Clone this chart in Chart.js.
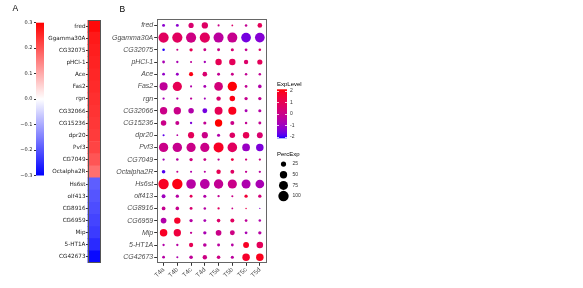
<!DOCTYPE html>
<html>
<head>
<meta charset="utf-8">
<script src="https://cdn.jsdelivr.net/npm/chart.js@4.4.1/dist/chart.umd.min.js"></script>
<style>
  body { margin: 0; background: #fff; }
  #wrap { position: relative; width: 583px; height: 288px; overflow: hidden; font-family: "Liberation Sans", Arial, sans-serif; }
  #wrap canvas { position: absolute; left: 0; top: 0; }
  .lbl { position: absolute; color: #000; white-space: nowrap; line-height: 1; }
</style>
</head>
<body>
<div id="wrap">
  <canvas id="cbA" width="583" height="288"></canvas>
  <canvas id="heatA" width="583" height="288"></canvas>
  <canvas id="dotB" width="583" height="288"></canvas>
  <canvas id="cbB" width="583" height="288"></canvas>
  <canvas id="sizeB" width="583" height="288"></canvas>
  <div class="lbl" style="left:12.5px;top:4px;font-size:8.5px">A</div>
  <div class="lbl" style="left:119.5px;top:4.5px;font-size:8.5px">B</div>
  <div class="lbl" style="left:277px;top:80.5px;font-size:6px">ExpLevel</div>
  <div class="lbl" style="left:277px;top:150.5px;font-size:6px">PercExp</div>
</div>
<script>
// data
const genes = ["fred", "Ggamma30A", "CG32075", "pHCl-1", "Ace", "Fas2", "rgn", "CG32066", "CG15236", "dpr20",
  "Pvf3", "CG7049", "Octalpha2R", "Hs6st", "olf413", "CG8916", "CG6959", "Mip", "5-HT1A", "CG42673"];
const geneCorr = [0.29, 0.27, 0.265, 0.26, 0.255, 0.25, 0.245, 0.24, 0.235, 0.23,
  0.22, 0.2, 0.17, -0.19, -0.2, -0.21, -0.22, -0.23, -0.25, -0.29];
const corrTicks = [0.3, 0.2, 0.1, 0, -0.1, -0.2, -0.3];

const cells = ["T4a", "T4b", "T4c", "T4d", "T5a", "T5b", "T5c", "T5d"];
// percent expressed, one row per gene
const pctExp = [
  [8, 8, 25, 37, 4, 3, 6, 20],
  [96, 96, 95, 96, 93, 92, 88, 88],
  [6, 4, 10, 8, 8, 9, 7, 6],
  [7, 5, 4, 5, 38, 38, 18, 25],
  [7, 8, 16, 20, 8, 8, 6, 6],
  [60, 78, 4, 8, 70, 80, 7, 12],
  [5, 5, 5, 4, 18, 28, 10, 10],
  [50, 50, 28, 22, 58, 60, 8, 9],
  [28, 15, 5, 9, 50, 15, 6, 8],
  [4, 3, 35, 35, 9, 28, 38, 32],
  [80, 82, 78, 78, 92, 85, 55, 52],
  [5, 6, 10, 8, 5, 8, 5, 5],
  [12, 4, 4, 4, 18, 14, 5, 5],
  [100, 100, 85, 88, 82, 78, 75, 70],
  [14, 10, 8, 9, 5, 4, 10, 10],
  [13, 12, 8, 6, 5, 3, 2, 1.5],
  [30, 38, 10, 8, 12, 15, 7, 6],
  [52, 50, 5, 10, 30, 22, 7, 10],
  [5, 5, 17, 12, 8, 7, 32, 40],
  [7, 4, 12, 18, 12, 9, 52, 52]
];
// scaled average expression, one row per gene
const expLevel = [
  [-1.3, -1.3, 0.5, 0.7, 0, 0.6, -0.2, 0.9],
  [0.8, 0.8, 0.1, 0.8, -0.4, -0.1, -1.6, -1.4],
  [-2.1, 0, 1.0, 0, 0, 0.4, -0.2, 0.6],
  [-0.8, -0.8, -0.3, -0.9, 1.0, 0.9, 0.6, 0.9],
  [-1.2, -1.1, 2.0, 0.5, -0.2, 0, -0.2, -0.2],
  [-0.3, 1.0, -0.6, -0.8, 0.3, 2.1, -0.2, -0.6],
  [-0.8, -0.5, -0.3, -0.9, 0.5, 2.0, -0.1, -0.2],
  [0, 0, -0.6, -1.6, 1.0, 1.9, -0.8, -0.5],
  [0, -0.1, -1.5, -0.2, 2.15, 0, -0.2, -0.2],
  [-1.8, -0.5, 0.9, 0, -0.6, 0.7, 1.0, 0.5],
  [0, -0.1, 0, 0, 1.8, 0.8, -1.1, -1.5],
  [-0.9, -0.5, 0.2, 0, -0.2, 1.3, 0.2, 0],
  [-1.9, -0.2, -0.6, -0.5, 1.0, 0.7, -0.2, -0.4],
  [1.8, 2.0, -0.5, -0.5, -0.2, 0, -0.7, -0.8],
  [-1.0, -0.5, 0.9, -0.6, -0.2, 0, 1.5, 0.3],
  [-0.1, -0.1, 0.5, -0.5, 0.8, 0, 1.2, -1.3],
  [-0.6, 1.7, -0.5, -0.8, 0.6, 0.8, -0.3, -0.6],
  [1.8, 1.4, -0.2, -0.8, 0, 0.1, -0.8, -0.5],
  [-0.6, -0.5, 1.0, -0.4, -0.4, -0.5, 1.8, 0.9],
  [-0.5, -0.7, -0.3, 0.1, 0.1, -0.4, 1.7, 1.9]
];
const expMin = -2.15;
const expMax = 2.15;
const expTicks = [2, 1, 0, -1, -2];
const sizeKeys = [25, 50, 75, 100];

Chart.defaults.font.family = '"Liberation Sans", Arial, sans-serif';

// colours
function bwr(v) {
  const t = Math.max(0, Math.min(1, (v + 0.3) / 0.6));
  if (t < 0.5) {
    const c = Math.round(2 * t * 255);
    return `rgb(${c},${c},255)`;
  }
  const c = Math.round((2 - 2 * t) * 255);
  return `rgb(255,${c},${c})`;
}

function toLin(c) {
  c /= 255;
  return c <= 0.04045 ? c / 12.92 : Math.pow((c + 0.055) / 1.055, 2.4);
}
function toSrgb(c) {
  c = c <= 0.0031308 ? 12.92 * c : 1.055 * Math.pow(c, 1 / 2.4) - 0.055;
  return Math.round(Math.max(0, Math.min(1, c)) * 255);
}
function rgbToLab(rgb) {
  const r = toLin(rgb[0]), g = toLin(rgb[1]), b = toLin(rgb[2]);
  const f = (t) => (t > 0.008856 ? Math.cbrt(t) : 7.787 * t + 16 / 116);
  const x = f((0.4124 * r + 0.3576 * g + 0.1805 * b) / 0.95047);
  const y = f(0.2126 * r + 0.7152 * g + 0.0722 * b);
  const z = f((0.0193 * r + 0.1192 * g + 0.9505 * b) / 1.08883);
  return [116 * y - 16, 500 * (x - y), 200 * (y - z)];
}
function labToRgb(lab) {
  const fy = (lab[0] + 16) / 116, fx = lab[1] / 500 + fy, fz = fy - lab[2] / 200;
  const fi = (t) => (t * t * t > 0.008856 ? t * t * t : (t - 16 / 116) / 7.787);
  const x = fi(fx) * 0.95047, y = fi(fy), z = fi(fz) * 1.08883;
  const r = 3.2406 * x - 1.5372 * y - 0.4986 * z;
  const g = -0.9689 * x + 1.8758 * y + 0.0415 * z;
  const b = 0.0557 * x - 0.204 * y + 1.057 * z;
  return `rgb(${toSrgb(r)},${toSrgb(g)},${toSrgb(b)})`;
}
const labLow = rgbToLab([0, 0, 255]);
const labHigh = rgbToLab([255, 0, 0]);
function expColor(v) {
  const t = Math.max(0, Math.min(1, (v - expMin) / (expMax - expMin)));
  return labToRgb(labLow.map((l, i) => l + (labHigh[i] - l) * t));
}

function dotRadius(pct) {
  return 0.52 * Math.sqrt(pct);
}

// plugins
const frame = {
  id: "frame",
  afterDraw(chart, args, opts) {
    const a = chart.chartArea, c = chart.ctx;
    c.save();
    c.strokeStyle = opts.color || "#555";
    c.lineWidth = 1;
    c.strokeRect(Math.round(a.left) + 0.5, Math.round(a.top) + 0.5, Math.round(a.right - a.left) - 1, Math.round(a.bottom - a.top) - 1);
    c.restore();
  }
};

// fills the chart area with a vertical gradient
const gradientBar = {
  id: "gradientBar",
  beforeDatasetsDraw(chart, args, opts) {
    const a = chart.chartArea, c = chart.ctx, y = chart.scales.y;
    const grad = c.createLinearGradient(0, y.getPixelForValue(y.min), 0, y.getPixelForValue(y.max));
    for (let i = 0; i <= 40; i++) {
      grad.addColorStop(i / 40, opts.colorFn(y.min + (y.max - y.min) * i / 40));
    }
    c.save();
    c.fillStyle = grad;
    c.fillRect(a.left, a.top, a.right - a.left, a.bottom - a.top);
    if (opts.whiteTicks) {
      c.strokeStyle = "#fff";
      c.lineWidth = 0.8;
      y.ticks.forEach((t) => {
        const py = Math.round(y.getPixelForValue(t.value)) + 0.5;
        c.beginPath();
        c.moveTo(a.left, py); c.lineTo(a.left + 2, py);
        c.moveTo(a.right - 2, py); c.lineTo(a.right, py);
        c.stroke();
      });
    }
    c.restore();
  }
};

function baseOptions(padding) {
  return {
    responsive: false,
    animation: false,
    devicePixelRatio: 1,
    events: [],
    layout: { padding: padding },
    plugins: { legend: { display: false }, tooltip: { enabled: false } }
  };
}

// panel A colorbar
const cbAOpts = baseOptions({ left: 0, top: 22.7, right: 583 - 44, bottom: 288 - 175.5 });
cbAOpts.plugins.gradientBar = { colorFn: bwr };
cbAOpts.scales = {
  x: { display: false },
  y: {
    min: -0.3, max: 0.3, position: "left",
    afterFit: (s) => { s.width = 36; },
    afterBuildTicks: (s) => { s.ticks = corrTicks.map((v) => ({ value: v })); },
    grid: { drawOnChartArea: false, tickLength: 2, color: "#333" },
    border: { display: false },
    ticks: {
      font: { family: "DejaVu Sans", size: 5 }, color: "#222", padding: 1.5,
      callback: (v) => v.toFixed(1).replace("-", "\u2212")
    }
  }
};
new Chart(document.getElementById("cbA"), {
  type: "scatter",
  data: { datasets: [] },
  options: cbAOpts,
  plugins: [gradientBar]
});

// panel A heatmap column
const heatOpts = baseOptions({ left: 0, top: 20, right: 583 - 100, bottom: 288 - 263 });
heatOpts.indexAxis = "y";
heatOpts.plugins.frame = { color: "#555" };
heatOpts.scales = {
  x: { display: false, min: 0, max: 1 },
  y: {
    afterFit: (s) => { s.width = 87.5; },
    grid: { drawOnChartArea: false, offset: false, tickLength: 1.5, color: "#333" },
    border: { display: false },
    ticks: { font: { family: "DejaVu Sans", size: 5.7 }, color: "#222", padding: 0.5, autoSkip: false }
  }
};
new Chart(document.getElementById("heatA"), {
  type: "bar",
  data: {
    labels: genes,
    datasets: [{
      data: genes.map(() => 1),
      backgroundColor: geneCorr.map(bwr),
      borderWidth: 0,
      barPercentage: 1,
      categoryPercentage: 1
    }]
  },
  options: heatOpts,
  plugins: [frame]
});

// panel B dot plot
const dots = [];
genes.forEach((g, i) => {
  cells.forEach((cell, j) => {
    dots.push({ x: cell, y: g, r: dotRadius(pctExp[i][j]), v: expLevel[i][j] });
  });
});
const dotOpts = baseOptions({ left: 0, top: 19.3, right: 583 - 266.7, bottom: 0 });
dotOpts.plugins.frame = { color: "#666" };
dotOpts.scales = {
  x: {
    type: "category", labels: cells, offset: true,
    afterFit: (s) => { s.height = 288 - 263.3; },
    grid: { drawOnChartArea: false, offset: false, tickLength: 2.5, color: "#333" },
    border: { display: false },
    ticks: { autoSkip: false, minRotation: 45, maxRotation: 45, font: { size: 6.5 }, color: "#4d4d4d", padding: 0 }
  },
  y: {
    type: "category", labels: genes, offset: true,
    afterFit: (s) => { s.width = 156.7; },
    grid: { drawOnChartArea: false, offset: false, tickLength: 2.5, color: "#333" },
    border: { display: false },
    ticks: { autoSkip: false, font: { size: 7, style: "italic" }, color: "#4d4d4d", padding: 1 }
  }
};
new Chart(document.getElementById("dotB"), {
  type: "bubble",
  data: {
    datasets: [{
      data: dots,
      backgroundColor: (ctx) => (ctx.raw ? expColor(ctx.raw.v) : "#000"),
      borderWidth: 0,
      hoverRadius: 0
    }]
  },
  options: dotOpts,
  plugins: [frame]
});

// ExpLevel colourbar
const cbBOpts = baseOptions({ left: 277, top: 89.3, right: 583 - 287 - 20, bottom: 288 - 138.3 });
cbBOpts.plugins.gradientBar = { colorFn: expColor, whiteTicks: true };
cbBOpts.scales = {
  x: { display: false },
  y: {
    min: expMin, max: expMax, position: "right",
    afterFit: (s) => { s.width = 20; },
    afterBuildTicks: (s) => { s.ticks = expTicks.map((v) => ({ value: v })); },
    grid: { display: false, drawTicks: false },
    border: { display: false },
    ticks: { font: { size: 5 }, color: "#333", padding: 3 }
  }
};
new Chart(document.getElementById("cbB"), {
  type: "scatter",
  data: { datasets: [] },
  options: cbBOpts,
  plugins: [gradientBar]
});

// PercExp size key
const sizeLabels = sizeKeys.map(String);
const sizeOpts = baseOptions({ left: 279, top: 158.7, right: 583 - 288 - 20, bottom: 288 - 201.4 });
sizeOpts.scales = {
  x: { type: "category", labels: ["key"], offset: true, display: false },
  y: {
    type: "category", labels: sizeLabels, offset: true, position: "right",
    afterFit: (s) => { s.width = 20; },
    grid: { display: false, drawTicks: false },
    border: { display: false },
    ticks: { font: { size: 5 }, color: "#333", padding: 4.5 }
  }
};
new Chart(document.getElementById("sizeB"), {
  type: "bubble",
  data: {
    datasets: [{
      data: sizeKeys.map((k, i) => ({ x: "key", y: sizeLabels[i], r: dotRadius(k) })),
      backgroundColor: "#000",
      borderWidth: 0,
      hoverRadius: 0
    }]
  },
  options: sizeOpts
});
</script>
</body>
</html>
